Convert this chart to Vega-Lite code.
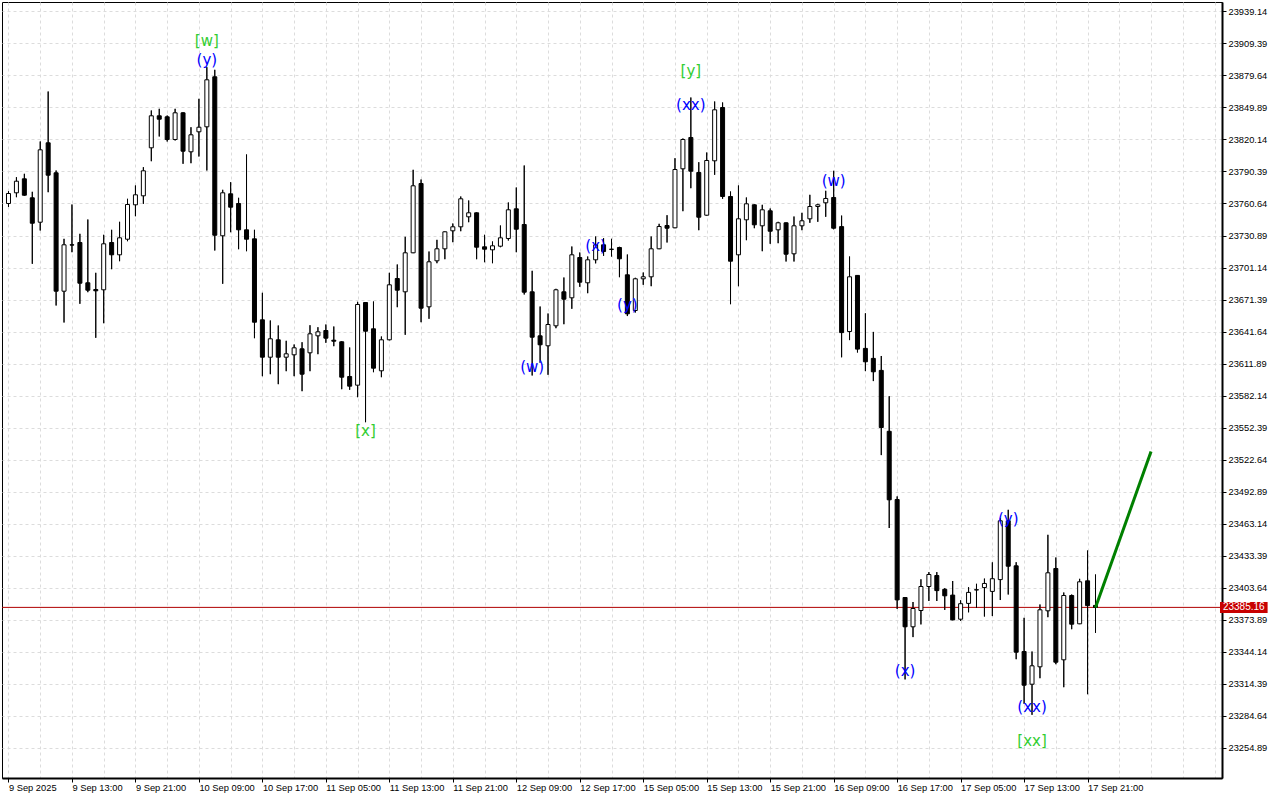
{
  "$schema": "https://vega.github.io/schema/vega-lite/v6.json",
  "width": 1220,
  "height": 776,
  "autosize": {"type": "none"},
  "padding": {"left": 2, "top": 2, "right": 58, "bottom": 22},
  "background": "#ffffff",
  "config": {
    "view": {"stroke": "#000000", "strokeWidth": 1},
    "axis": {
      "labelFont": "Liberation Sans",
      "labelFontSize": 9.3,
      "labelColor": "#000000",
      "domainColor": "#000000",
      "tickColor": "#000000",
      "gridColor": "#dcdcdc",
      "gridDash": [3, 3],
      "gridWidth": 1,
      "labelOverlap": false
    }
  },
  "datasets": {
    "candles": [
      {"i":0,"o":23760.64,"h":23772.0,"l":23757.5,"c":23769.93},
      {"i":1,"o":23770.58,"h":23785.09,"l":23766.5,"c":23781.37},
      {"i":2,"o":23783.6,"h":23788.25,"l":23768.0,"c":23768.35},
      {"i":3,"o":23765.94,"h":23771.51,"l":23704.58,"c":23742.32},
      {"i":4,"o":23743.25,"h":23818.28,"l":23735.53,"c":23810.56},
      {"i":5,"o":23817.07,"h":23864.76,"l":23771.14,"c":23786.95},
      {"i":6,"o":23789.18,"h":23791.32,"l":23665.81,"c":23679.11},
      {"i":7,"o":23679.11,"h":23727.81,"l":23650.0,"c":23722.24},
      {"i":8,"o":23722.24,"h":23759.71,"l":23715.36,"c":23722.0},
      {"i":9,"o":23724.38,"h":23732.46,"l":23667.39,"c":23686.54},
      {"i":10,"o":23686.92,"h":23745.76,"l":23678.18,"c":23680.04},
      {"i":11,"o":23680.69,"h":23696.21,"l":23635.78,"c":23679.48},
      {"i":12,"o":23680.41,"h":23731.53,"l":23649.35,"c":23723.17},
      {"i":13,"o":23724.38,"h":23736.18,"l":23699.56,"c":23712.94},
      {"i":14,"o":23712.94,"h":23743.62,"l":23706.99,"c":23728.74},
      {"i":15,"o":23727.44,"h":23765.01,"l":23725.59,"c":23759.71},
      {"i":16,"o":23759.43,"h":23777.37,"l":23748.83,"c":23768.73},
      {"i":17,"o":23767.8,"h":23794.39,"l":23760.36,"c":23791.04},
      {"i":18,"o":23812.42,"h":23847.1,"l":23799.96,"c":23842.17},
      {"i":19,"o":23842.17,"h":23848.68,"l":23822.93,"c":23839.01},
      {"i":20,"o":23841.24,"h":23842.45,"l":23818.28,"c":23820.14},
      {"i":21,"o":23820.14,"h":23848.68,"l":23819.21,"c":23844.96},
      {"i":22,"o":23844.96,"h":23845.5,"l":23797.55,"c":23809.26},
      {"i":23,"o":23808.7,"h":23831.57,"l":23798.1,"c":23824.51},
      {"i":24,"o":23827.3,"h":23857.98,"l":23804.33,"c":23831.57},
      {"i":25,"o":23831.94,"h":23887.36,"l":23791.32,"c":23875.64},
      {"i":26,"o":23878.43,"h":23884.94,"l":23716.94,"c":23731.16},
      {"i":27,"o":23730.62,"h":23773.37,"l":23685.99,"c":23770.58},
      {"i":28,"o":23769.66,"h":23780.44,"l":23733.95,"c":23757.2},
      {"i":29,"o":23760.64,"h":23765.94,"l":23718.15,"c":23736.18},
      {"i":30,"o":23736.18,"h":23806.2,"l":23716.29,"c":23727.44},
      {"i":31,"o":23727.81,"h":23736.18,"l":23635.41,"c":23650.28},
      {"i":32,"o":23652.51,"h":23677.62,"l":23600.09,"c":23617.75},
      {"i":33,"o":23617.75,"h":23651.87,"l":23601.95,"c":23634.86},
      {"i":34,"o":23633.92,"h":23647.22,"l":23592.66,"c":23617.75},
      {"i":35,"o":23617.75,"h":23633.0,"l":23604.74,"c":23620.91},
      {"i":36,"o":23619.98,"h":23629.56,"l":23600.09,"c":23626.49},
      {"i":37,"o":23625.56,"h":23631.69,"l":23586.15,"c":23601.95},
      {"i":38,"o":23621.84,"h":23647.49,"l":23604.74,"c":23639.49},
      {"i":39,"o":23637.63,"h":23645.63,"l":23620.54,"c":23641.35},
      {"i":40,"o":23642.56,"h":23648.14,"l":23631.14,"c":23635.41},
      {"i":41,"o":23633.55,"h":23646.28,"l":23627.98,"c":23632.62},
      {"i":42,"o":23632.07,"h":23632.5,"l":23588.01,"c":23599.16},
      {"i":43,"o":23599.81,"h":23626.77,"l":23587.45,"c":23590.8},
      {"i":44,"o":23591.73,"h":23669.25,"l":23580.57,"c":23666.74},
      {"i":45,"o":23668.6,"h":23669.0,"l":23557.33,"c":23641.91},
      {"i":46,"o":23644.14,"h":23669.53,"l":23603.81,"c":23607.53},
      {"i":47,"o":23605.11,"h":23636.98,"l":23599.16,"c":23633.92},
      {"i":48,"o":23633.92,"h":23696.21,"l":23633.5,"c":23685.06},
      {"i":49,"o":23690.91,"h":23703.93,"l":23664.23,"c":23680.04},
      {"i":50,"o":23678.55,"h":23729.67,"l":23638.56,"c":23714.8},
      {"i":51,"o":23714.8,"h":23791.97,"l":23714.5,"c":23777.09},
      {"i":52,"o":23779.23,"h":23782.95,"l":23650.28,"c":23663.3},
      {"i":53,"o":23664.6,"h":23716.01,"l":23653.44,"c":23706.43},
      {"i":54,"o":23707.36,"h":23726.88,"l":23705.13,"c":23718.52},
      {"i":55,"o":23718.52,"h":23734.6,"l":23708.85,"c":23734.32},
      {"i":56,"o":23735.25,"h":23742.04,"l":23724.66,"c":23738.97},
      {"i":57,"o":23738.97,"h":23767.15,"l":23734.88,"c":23765.01},
      {"i":58,"o":23748.27,"h":23763.43,"l":23743.25,"c":23751.99},
      {"i":59,"o":23751.99,"h":23752.3,"l":23708.85,"c":23720.01},
      {"i":60,"o":23720.38,"h":23731.53,"l":23706.06,"c":23718.15},
      {"i":61,"o":23717.59,"h":23725.31,"l":23705.13,"c":23721.31},
      {"i":62,"o":23720.94,"h":23740.18,"l":23720.01,"c":23728.74},
      {"i":63,"o":23728.09,"h":23761.57,"l":23726.24,"c":23754.78},
      {"i":64,"o":23755.71,"h":23775.51,"l":23715.36,"c":23736.74},
      {"i":65,"o":23741.11,"h":23795.97,"l":23676.04,"c":23678.18},
      {"i":66,"o":23678.55,"h":23698.07,"l":23600.74,"c":23636.33},
      {"i":67,"o":23637.63,"h":23664.88,"l":23612.55,"c":23629.28},
      {"i":68,"o":23628.35,"h":23658.37,"l":23601.39,"c":23648.14},
      {"i":69,"o":23646.93,"h":23681.34,"l":23644.7,"c":23680.41},
      {"i":70,"o":23678.55,"h":23691.84,"l":23648.42,"c":23671.67},
      {"i":71,"o":23672.97,"h":23720.66,"l":23662.74,"c":23712.94},
      {"i":72,"o":23710.43,"h":23715.08,"l":23683.2,"c":23687.47},
      {"i":73,"o":23686.92,"h":23711.36,"l":23677.25,"c":23708.29},
      {"i":74,"o":23708.29,"h":23729.95,"l":23705.0,"c":23722.24},
      {"i":75,"o":23722.24,"h":23728.38,"l":23712.0,"c":23716.01},
      {"i":76,"o":23718.15,"h":23727.81,"l":23711.36,"c":23718.0},
      {"i":77,"o":23719.73,"h":23720.38,"l":23692.12,"c":23709.22},
      {"i":78,"o":23694.35,"h":23713.22,"l":23656.0,"c":23658.09},
      {"i":79,"o":23661.16,"h":23691.57,"l":23659.3,"c":23690.63},
      {"i":80,"o":23690.63,"h":23696.49,"l":23685.06,"c":23692.49},
      {"i":81,"o":23692.49,"h":23729.95,"l":23683.76,"c":23718.52},
      {"i":82,"o":23718.52,"h":23741.76,"l":23718.2,"c":23739.25},
      {"i":83,"o":23740.18,"h":23749.76,"l":23724.38,"c":23737.67},
      {"i":84,"o":23738.04,"h":23802.75,"l":23737.7,"c":23792.25},
      {"i":85,"o":23792.9,"h":23821.07,"l":23753.48,"c":23820.14},
      {"i":86,"o":23822.0,"h":23859.18,"l":23774.86,"c":23790.67},
      {"i":87,"o":23789.46,"h":23799.03,"l":23735.81,"c":23747.9},
      {"i":88,"o":23749.76,"h":23808.05,"l":23749.4,"c":23800.61},
      {"i":89,"o":23800.33,"h":23855.46,"l":23787.32,"c":23847.75},
      {"i":90,"o":23849.89,"h":23854.54,"l":23765.01,"c":23767.15},
      {"i":91,"o":23767.15,"h":23771.79,"l":23667.02,"c":23706.99},
      {"i":92,"o":23712.94,"h":23777.37,"l":23683.76,"c":23746.41},
      {"i":93,"o":23745.48,"h":23766.22,"l":23726.52,"c":23760.36},
      {"i":94,"o":23759.43,"h":23759.8,"l":23737.67,"c":23740.83},
      {"i":95,"o":23739.9,"h":23759.43,"l":23716.29,"c":23754.78},
      {"i":96,"o":23753.85,"h":23755.99,"l":23723.17,"c":23734.88},
      {"i":97,"o":23736.18,"h":23743.62,"l":23723.72,"c":23742.69},
      {"i":98,"o":23742.69,"h":23743.0,"l":23706.71,"c":23713.5},
      {"i":99,"o":23713.87,"h":23748.55,"l":23706.71,"c":23739.9},
      {"i":100,"o":23739.9,"h":23751.99,"l":23735.81,"c":23744.55},
      {"i":101,"o":23746.41,"h":23768.73,"l":23742.69,"c":23757.85},
      {"i":102,"o":23757.85,"h":23760.36,"l":23743.62,"c":23759.43},
      {"i":103,"o":23761.29,"h":23772.44,"l":23748.27,"c":23765.29},
      {"i":104,"o":23766.22,"h":23791.04,"l":23736.65,"c":23737.67},
      {"i":105,"o":23739.16,"h":23749.39,"l":23617.66,"c":23640.61},
      {"i":106,"o":23641.64,"h":23711.36,"l":23633.64,"c":23692.49},
      {"i":107,"o":23693.79,"h":23694.1,"l":23622.12,"c":23625.28},
      {"i":108,"o":23625.93,"h":23658.56,"l":23604.83,"c":23613.48},
      {"i":109,"o":23616.64,"h":23641.26,"l":23595.54,"c":23604.18},
      {"i":110,"o":23605.48,"h":23618.87,"l":23526.73,"c":23552.39},
      {"i":111,"o":23548.86,"h":23581.5,"l":23458.95,"c":23485.17},
      {"i":112,"o":23485.45,"h":23488.33,"l":23383.75,"c":23392.11},
      {"i":113,"o":23394.34,"h":23394.7,"l":23318.2,"c":23367.1},
      {"i":114,"o":23367.1,"h":23390.16,"l":23357.53,"c":23384.12},
      {"i":115,"o":23382.26,"h":23411.26,"l":23369.33,"c":23404.57},
      {"i":116,"o":23404.57,"h":23417.95,"l":23391.09,"c":23415.72},
      {"i":117,"o":23414.79,"h":23417.95,"l":23391.09,"c":23400.76},
      {"i":118,"o":23401.97,"h":23402.99,"l":23382.82,"c":23395.92},
      {"i":119,"o":23396.57,"h":23409.68,"l":23373.2,"c":23373.52},
      {"i":120,"o":23374.17,"h":23391.74,"l":23372.59,"c":23388.58},
      {"i":121,"o":23388.86,"h":23403.92,"l":23380.59,"c":23399.09},
      {"i":122,"o":23401.32,"h":23407.08,"l":23384.68,"c":23401.6},
      {"i":123,"o":23403.6,"h":23411.91,"l":23376.68,"c":23407.4},
      {"i":124,"o":23400.0,"h":23427.0,"l":23377.1,"c":23411.8},
      {"i":125,"o":23410.98,"h":23467.88,"l":23392.0,"c":23465.65},
      {"i":126,"o":23465.65,"h":23475.87,"l":23397.13,"c":23423.44},
      {"i":127,"o":23423.81,"h":23427.16,"l":23336.98,"c":23343.49},
      {"i":128,"o":23344.14,"h":23375.47,"l":23295.52,"c":23312.81},
      {"i":129,"o":23313.74,"h":23344.14,"l":23285.29,"c":23330.84},
      {"i":130,"o":23329.91,"h":23387.84,"l":23319.31,"c":23382.91},
      {"i":131,"o":23381.98,"h":23452.63,"l":23376.03,"c":23417.3},
      {"i":132,"o":23421.3,"h":23431.53,"l":23332.33,"c":23334.19},
      {"i":133,"o":23336.42,"h":23398.99,"l":23310.95,"c":23396.2},
      {"i":134,"o":23396.2,"h":23397.13,"l":23364.87,"c":23369.52},
      {"i":135,"o":23369.89,"h":23411.72,"l":23369.6,"c":23408.94},
      {"i":136,"o":23409.86,"h":23438.04,"l":23304.44,"c":23386.8},
      {"i":137,"o":23387.0,"h":23415.72,"l":23361.52,"c":23385.16}
    ],
    "labels": [
      {"i":25,"p":23911.25,"t":"[w]","k":"wave"},
      {"i":25,"p":23894.5,"t":"(y)","k":"sub"},
      {"i":86,"p":23883.4,"t":"[y]","k":"wave"},
      {"i":86,"p":23851.8,"t":"(xx)","k":"sub"},
      {"i":104,"p":23782.0,"t":"(w)","k":"sub"},
      {"i":45,"p":23549.6,"t":"[x]","k":"wave"},
      {"i":66,"p":23609.1,"t":"(w)","k":"sub"},
      {"i":74,"p":23720.7,"t":"(x)","k":"sub"},
      {"i":78,"p":23666.7,"t":"(y)","k":"sub"},
      {"i":113,"p":23325.6,"t":"(x)","k":"sub"},
      {"i":126,"p":23467.1,"t":"(y)","k":"sub"},
      {"i":129,"p":23293.0,"t":"(xx)","k":"sub"},
      {"i":129,"p":23260.5,"t":"[xx]","k":"wave"}
    ],
    "projection": [
      {"i":137,"p":23385.16},
      {"i":144,"p":23530.0}
    ],
    "last": [
      {"p":23385.16}
    ]
  },
  "layer": [
    {
      "data": {"name": "candles"},
      "mark": {"type": "rule", "color": "#000000", "strokeWidth": 1},
      "encoding": {
        "x": {
          "field": "i", "type": "quantitative", "title": null,
          "scale": {"domain": [-0.1875, 152.3125], "nice": false, "zero": false},
          "axis": {
            "values": [0,4,8,12,16,20,24,28,32,36,40,44,48,52,56,60,64,68,72,76,80,84,88,92,96,100,104,108,112,116,120,124,128,132,136,140,144,148,152],
            "tickCount": 200,
            "grid": true,
            "labelExpr": "datum.value % 8 === 0 && datum.value <= 136 ? ['9 Sep 2025','9 Sep 13:00','9 Sep 21:00','10 Sep 09:00','10 Sep 17:00','11 Sep 05:00','11 Sep 13:00','11 Sep 21:00','12 Sep 09:00','12 Sep 17:00','15 Sep 05:00','15 Sep 13:00','15 Sep 21:00','16 Sep 09:00','16 Sep 17:00','17 Sep 05:00','17 Sep 13:00','17 Sep 21:00'][datum.value / 8] : ''",
            "tickOpacity": {"condition": {"test": "datum.value % 8 === 0 && datum.value <= 136", "value": 1}, "value": 0},
            "labelAlign": "left",
            "labelFlush": false,
            "labelOverlap": false,
            "tickSize": 4,
            "labelPadding": 1,
            "domainWidth": 2
          }
        },
        "y": {
          "field": "l", "type": "quantitative", "title": null,
          "scale": {"domain": [23226.54, 23947.97], "nice": false, "zero": false},
          "axis": {
            "orient": "right",
            "values": [23939.14,23909.39,23879.64,23849.89,23820.14,23790.39,23760.64,23730.89,23701.14,23671.39,23641.64,23611.89,23582.14,23552.39,23522.64,23492.89,23463.14,23433.39,23403.64,23373.89,23344.14,23314.39,23284.64,23254.89],
            "tickCount": 200,
            "format": ".2f",
            "grid": true,
            "tickSize": 4,
            "labelPadding": 2,
            "domainWidth": 2,
            "labelOverlap": false,
            "labelFlush": false
          }
        },
        "y2": {"field": "h"}
      }
    },
    {
      "data": {"name": "last"},
      "mark": {"type": "rule", "color": "#b00000", "strokeWidth": 1},
      "encoding": {
        "y": {"field": "p", "type": "quantitative", "title": null}
      }
    },
    {
      "data": {"name": "candles"},
      "mark": {"type": "rule", "color": "#000000", "strokeWidth": 1},
      "encoding": {
        "x": {"field": "i", "type": "quantitative", "title": null},
        "y": {"field": "l", "type": "quantitative", "title": null},
        "y2": {"field": "h"}
      }
    },
    {
      "data": {"name": "candles"},
      "mark": {"type": "bar", "size": 4, "stroke": "#000000", "strokeWidth": 1},
      "encoding": {
        "x": {"field": "i", "type": "quantitative", "title": null},
        "y": {"field": "o", "type": "quantitative", "title": null},
        "y2": {"field": "c"},
        "fill": {"condition": {"test": "datum.c >= datum.o", "value": "#ffffff"}, "value": "#000000"}
      }
    },
    {
      "data": {"name": "projection"},
      "mark": {"type": "line", "color": "#008000", "strokeWidth": 3},
      "encoding": {
        "x": {"field": "i", "type": "quantitative", "title": null},
        "y": {"field": "p", "type": "quantitative", "title": null}
      }
    },
    {
      "data": {"name": "labels"},
      "mark": {"type": "text", "font": "DejaVu Sans", "fontSize": 15, "align": "center", "baseline": "middle"},
      "encoding": {
        "x": {"field": "i", "type": "quantitative", "title": null},
        "y": {"field": "p", "type": "quantitative", "title": null},
        "text": {"field": "t"},
        "color": {"field": "k", "type": "nominal", "scale": {"domain": ["wave", "sub"], "range": ["#32cd32", "#0000ff"]}, "legend": null}
      }
    },
    {
      "data": {"name": "last"},
      "mark": {"type": "rect", "color": "#c80000"},
      "encoding": {
        "x": {"datum": 152.69},
        "x2": {"datum": 158.69},
        "y": {"datum": 23390.16},
        "y2": {"datum": 23379.93}
      }
    },
    {
      "data": {"name": "last"},
      "mark": {"type": "text", "font": "Liberation Sans", "fontSize": 10, "color": "#ffffff", "align": "center", "baseline": "middle"},
      "encoding": {
        "x": {"datum": 155.69},
        "y": {"field": "p", "type": "quantitative", "title": null},
        "text": {"field": "p", "type": "quantitative", "format": ".2f"}
      }
    }
  ]
}
